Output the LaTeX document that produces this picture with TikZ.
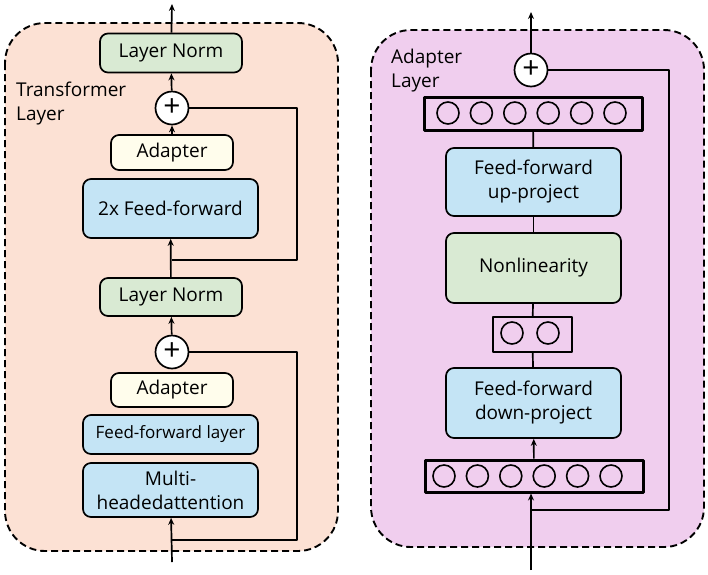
\documentclass[tikz,border=0pt]{standalone}
\usepackage{fontspec}
\setmainfont{Open Sans}
\usetikzlibrary{positioning,arrows.meta}
\definecolor{peach}{RGB}{252,225,212}
\definecolor{pinkbg}{RGB}{240,206,238}
\definecolor{normgreen}{RGB}{217,234,211}
\definecolor{ffblue}{RGB}{196,228,245}
\definecolor{cream}{RGB}{255,253,236}
\begin{document}
\begin{tikzpicture}[>={Stealth[length=7pt,width=6pt]},line join=round,x=1pt,y=-1pt,
		font=\fontsize{19}{24}\selectfont,line width=1.7pt,
		blk/.style={draw,rounded corners=8pt,align=center,inner sep=0pt},
		norm/.style={blk,fill=normgreen,minimum width=142pt,minimum height=39pt},
		adp/.style={blk,fill=cream,minimum width=122pt,minimum height=35pt},
		ff/.style={blk,fill=ffblue,minimum width=175pt},
		add/.style={draw,circle,fill=white,minimum size=33pt,inner sep=0pt,font=\fontsize{30}{30}\selectfont},
		neurons/.style={draw,line width=3pt,inner sep=0pt,minimum height=33pt},
		neuron/.style={draw,circle,line width=1.6pt,minimum size=22pt,inner sep=0pt},
		panel/.style={draw,line width=1.9pt,dash pattern=on 7pt off 4pt,rounded corners=40pt}
	]
	\useasboundingbox (0,0) rectangle (708,574);
	% Transformer layer
	\draw[panel,fill=peach] (5,23) rectangle (338,551);
	\node[anchor=north west,align=left] (tl) at (12,78) {Transformer\\Layer};
	\node[norm] (ln1) at (171,53) {Layer Norm};
	\node[add] (add1) at (172,108) {\raisebox{1pt}{+}};
	\node[adp] (ad1) at (172,152.5) {Adapter};
	\node[ff,minimum height=59pt] (ff2) at (170.5,208.5) {2x Feed-forward};
	\node[norm,minimum height=38pt] (ln2) at (171,297) {Layer Norm};
	\node[add] (add2) at (172,352) {\raisebox{1pt}{+}};
	\node[adp,minimum height=34pt] (ad2) at (172,390) {Adapter};
	\node[ff,minimum height=39pt,font=\fontsize{17}{22}\selectfont] (ffl) at (170.5,434.5) {Feed-forward layer};
	\node[ff,minimum height=54pt] (mha) at (170.5,490) {Multi-\\headedattention};
	\coordinate (out1) at (172,4);
	\coordinate (in1) at (172,562);
	\coordinate (br1) at (172,260);
	\coordinate (br2) at (172,540);
	\draw[->] (ln1) -- (out1);
	\draw[->] (add1) -- (ln1);
	\draw[->] (ad1) -- (add1);
	\draw[->] (ln2) -- (ff2);
	\draw (br1) -- ++(125,0) |- (add1);
	\draw[->] (add2) -- (ln2);
	\draw[->] (in1) -- (mha);
	\draw (br2) -- ++(125,0) |- (add2);
	% Adapter layer
	\draw[panel,fill=pinkbg] (371,30) rectangle (704,547);
	\node[anchor=north west,align=left] (al) at (387,45) {Adapter\\Layer};
	\node[add] (add3) at (531,70) {\raisebox{1pt}{+}};
	\node[neurons,minimum width=218pt] (upl) at (533,113.5) {};
	\foreach \i in {0,...,5}
		\node[neuron] (u\i) at (448+33.4*\i,113) {};
	\node[ff,minimum height=68pt] (ffu) at (533.5,182) {Feed-forward\\up-project};
	\node[blk,fill=normgreen,minimum width=175pt,minimum height=70pt] (nonl) at (533.5,268) {Nonlinearity};
	\node[neurons,line width=1.9pt,minimum width=79pt,minimum height=35pt] (midl) at (532.5,334.5) {};
	\foreach \i in {0,1}
		\node[neuron] (m\i) at (512+36*\i,333) {};
	\node[ff,minimum height=70pt] (ffd) at (533.5,403) {Feed-forward\\down-project};
	\node[neurons,minimum width=218pt,minimum height=32pt] (lowl) at (534,476) {};
	\foreach \i in {0,...,5}
		\node[neuron] (d\i) at (444+33.4*\i,476) {};
	\coordinate (out2) at (531,12);
	\coordinate (in2) at (531,570);
	\coordinate (br3) at (531,510);
	\draw[->] (add3) -- (out2);
	\draw (upl) -- (ffu);
	\draw (ffu) -- (nonl);
	\draw (nonl) -- (midl);
	\draw (midl) -- (ffd);
	\draw[->] (lowl) -- (ffd);
	\draw[->] (in2) -- (in2|-lowl.south);
	\draw (br3) -- ++(138,0) |- (add3);
\end{tikzpicture}
\end{document}
